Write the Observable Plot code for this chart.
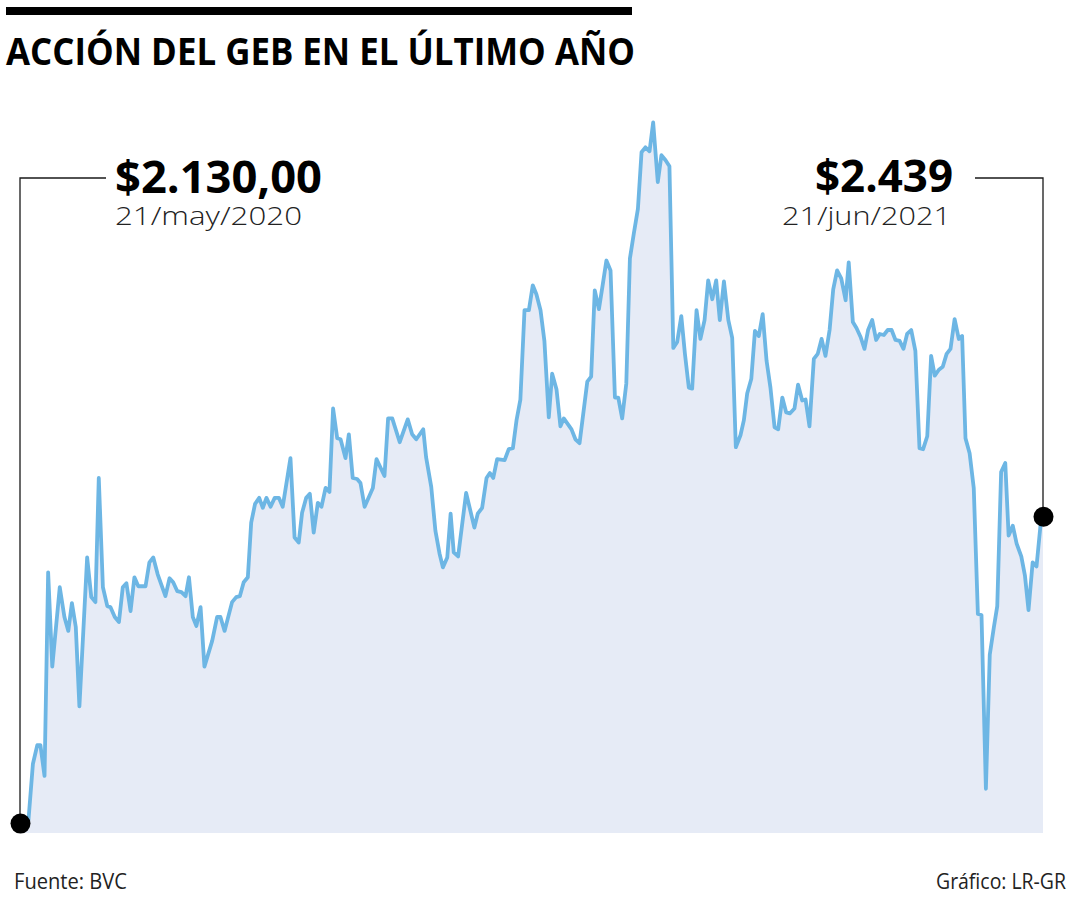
<!DOCTYPE html>
<html>
<head>
<meta charset="utf-8">
<script src="https://cdn.jsdelivr.net/npm/d3@7"></script>
<script src="https://cdn.jsdelivr.net/npm/@observablehq/plot@0.6"></script>
<style>
  html, body { margin: 0; padding: 0; background: #fff; }
  #chart { position: relative; width: 1080px; height: 900px; }
</style>
</head>
<body>
<div id="chart"></div>
<script>
// Días transcurridos desde el 21/may/2020
const dias = [0,3.1,4.8,6.5,7.7,9.3,10.7,12.3,15.2,17.0,18.5,19.9,21.4,22.8,25.8,27.4,29.0,30.3,31.9,33.6,34.8,36.5,38.1,39.6,41.0,42.6,44.1,45.6,48.4,49.9,51.4,53.1,56.1,57.7,59.1,60.7,62.3,63.9,65.2,66.7,68.1,69.7,71.2,74.2,76.1,77.4,79.0,81.9,83.5,84.9,86.4,88.0,89.3,90.8,92.4,
93.8,95.2,96.8,98.4,100.0,101.5,104.5,106.1,107.7,109.0,110.6,112.0,113.5,115.1,116.5,118.1,119.6,121.0,122.6,123.9,125.8,127.1,128.6,130.3,131.6,133.2,136.4,137.8,140.9,142.3,143.9,146.8,149.9,151.6,153.2,155.9,157.0,159.0,160.6,162.2,163.5,165.2,166.5,167.7,169.4,172.5,175.7,177.0,178.7,
180.4,181.7,183.0,184.5,187.4,189.0,190.6,192.0,193.5,195.1,196.8,198.3,199.7,201.3,202.8,204.5,205.8,207.5,209.0,210.3,213.3,214.8,216.4,219.4,220.9,222.3,223.9,225.4,226.8,228.4,230.1,231.4,232.9,234.5,235.9,237.4,239.0,240.4,241.9,243.5,244.9,246.7,248.1,249.7,251.2,252.7,254.2,255.8,257.2,258.7,260.0,261.7,263.2,264.8,266.2,267.8,269.3,270.7,272.3,274.0,275.5,276.9,278.7,280.0,281.3,282.9,284.3,285.8,287.3,288.8,290.3,291.9,293.3,294.9,296.4,297.8,299.6,301.0,302.6,303.9,305.4,307.1,308.6,310.1,311.6,313.2,314.6,316.1,317.7,319.4,320.6,322.2,323.6,325.2,326.7,328.1,329.7,331.2,332.6,334.2,335.7,337.2,338.7,340.3,341.8,343.2,344.8,346.4,348.0,349.4,351.0,352.5,353.9,355.5,357.0,358.5,360.0,361.6,363.2,364.5,365.8,367.4,369.0,370.6,372.0,373.7,375.2,376.8,378.1,379.6,381.2,382.5,384.1,385.6,387.4,388.8,390.2,391.8,393.3,394.9,396];

// Precio de la acción (pesos)
const precios = [2130,2134,2190,2209,2209,2178,2383,2288,2368,2338,2324,2352,2328,2248,2398,2358,2353,2478,2368,2349,2348,2338,2333,2368,2372,2344,2378,2369,2369,2393,2398,2381,2359,2377,2373,2364,2363,2359,2378,2338,2329,2348,2288,2314,2338,2338,2324,2353,2358,2359,2373,2378,2433,2452,2458,
2448,2458,2449,2458,2458,2449,2498,2418,2413,2443,2458,2462,2423,2453,2449,2468,2464,2548,2518,2517,2498,2522,2478,2477,2473,2449,2468,2497,2480,2538,2538,2514,2537,2522,2517,2527,2499,2469,2425,2402,2388,2398,2442,2403,2399,2463,2428,2442,2448,
2478,2483,2478,2497,2496,2507,2508,2536,2557,2647,2647,2672,2663,2647,2616,2539,2583,2567,2530,2538,2527,2517,2513,2575,2580,2667,2648,2673,2697,2687,2559,2559,2538,2573,2699,2724,2749,2806,2811,2807,2836,2776,2803,2798,2792,2609,2615,2641,2603,2569,2568,2647,2618,2637,2677,2658,2677,2637,2676,2637,2619,2509,2521,2536,2563,2578,2626,2621,2643,2596,2569,2529,2527,2559,2544,2543,2548,2572,2556,2557,2530,2598,2603,2618,2601,2627,2668,2687,2679,2657,2695,2635,2629,2620,2608,2627,2637,2617,2623,2622,2627,2627,2617,2616,2608,2623,2627,2606,2508,2507,2520,2601,2581,2587,2590,2603,2608,2638,2618,2621,2518,2503,2468,2341,2340,2165,2300,2328,2349,2484,2493,2420,2430,2412,2399,2380,2345,2393,2389,2432,2439];

const titulo = "ACCIÓN DEL GEB EN EL ÚLTIMO AÑO";
const etiquetaInicio = ["$2.130,00", "21/may/2020"];
const etiquetaFin = ["$2.439", "21/jun/2021"];
const fuente = "Fuente: BVC";
const credito = "Gráfico: LR-GR";

if (dias.length !== precios.length) throw new Error("len mismatch " + dias.length + " vs " + precios.length);

const inicio = Date.UTC(2020, 4, 21);
const datos = dias.map((d, i) => ({ fecha: new Date(inicio + d * 86400000), precio: precios[i] }));
const primero = datos[0];
const ultimo = datos[datos.length - 1];
const yDominio = [2120, 2840];

const chart = Plot.plot({
  width: 1080,
  height: 900,
  marginLeft: 20,
  marginRight: 37,
  marginTop: 118,
  marginBottom: 67,
  x: { type: "utc", domain: [primero.fecha, ultimo.fecha], axis: null },
  y: { domain: yDominio, axis: null },
  marks: [
    Plot.areaY(datos, { x: "fecha", y1: yDominio[0], y2: "precio", fill: "#e6ebf6" }),
    Plot.lineY(datos, { x: "fecha", y: "precio", stroke: "#6db6e4", strokeWidth: 3.8, strokeLinejoin: "round", strokeLinecap: "round" }),
    Plot.dot([primero, ultimo], { x: "fecha", y: "precio", r: 10, fill: "#000", stroke: "none" })
  ]
});

document.getElementById("chart").appendChild(chart);

const svg = d3.select(chart);
const sx = chart.scale("x"), sy = chart.scale("y");
const x0 = sx.apply(primero.fecha), y0 = sy.apply(primero.precio);
const x1 = sx.apply(ultimo.fecha), y1 = sy.apply(ultimo.precio);
const nivel = 118 + 60;

// Líneas guía (debajo de los puntos)
const guias = svg.insert("g", "g[aria-label=dot]")
  .attr("fill", "none").attr("stroke", "#1a1a1a").attr("stroke-width", 1.3);
guias.append("path").attr("d", `M${x0},${y0}V${nivel}H${x0 + 86}`);
guias.append("path").attr("d", `M${x1},${y1}V${nivel}H${x1 - 68}`);

// Barra y título
svg.append("rect").attr("x", 6).attr("y", 7).attr("width", 626).attr("height", 8).attr("fill", "#000");
svg.append("text").attr("x", 6).attr("y", 65).attr("text-anchor", "start")
  .attr("font-family", "'Open Sans', sans-serif").attr("font-weight", 700).attr("font-size", 37)
  .attr("fill", "#000").attr("textLength", 629).attr("lengthAdjust", "spacingAndGlyphs")
  .text(titulo);

// Etiquetas
const t = svg.append("g").attr("font-family", "'Open Sans', sans-serif").attr("fill", "#000");
t.append("text").attr("x", x0 + 95).attr("y", nivel + 15).attr("text-anchor", "start").attr("font-weight", 700).attr("font-size", 44)
  .attr("textLength", 207).attr("lengthAdjust", "spacingAndGlyphs").text(etiquetaInicio[0]);
t.append("text").attr("x", x0 + 95).attr("y", nivel + 47).attr("text-anchor", "start").attr("font-weight", 300).attr("font-size", 26)
  .attr("fill", "#222").attr("textLength", 187).attr("lengthAdjust", "spacingAndGlyphs").text(etiquetaInicio[1]);
t.append("text").attr("x", x1 - 90).attr("y", nivel + 14).attr("text-anchor", "end").attr("font-weight", 700).attr("font-size", 44)
  .attr("textLength", 138).attr("lengthAdjust", "spacingAndGlyphs").text(etiquetaFin[0]);
t.append("text").attr("x", x1 - 92).attr("y", nivel + 47).attr("text-anchor", "end").attr("font-weight", 300).attr("font-size", 26)
  .attr("fill", "#222").attr("textLength", 169).attr("lengthAdjust", "spacingAndGlyphs").text(etiquetaFin[1]);

// Pie
const p = svg.append("g").attr("font-family", "'Open Sans', sans-serif").attr("font-size", 22).attr("fill", "#222");
p.append("text").attr("x", 14).attr("y", 889).attr("text-anchor", "start").attr("textLength", 113).attr("lengthAdjust", "spacingAndGlyphs").text(fuente);
p.append("text").attr("x", 1066).attr("y", 889).attr("text-anchor", "end").attr("textLength", 130).attr("lengthAdjust", "spacingAndGlyphs").text(credito);
</script>
</body>
</html>
